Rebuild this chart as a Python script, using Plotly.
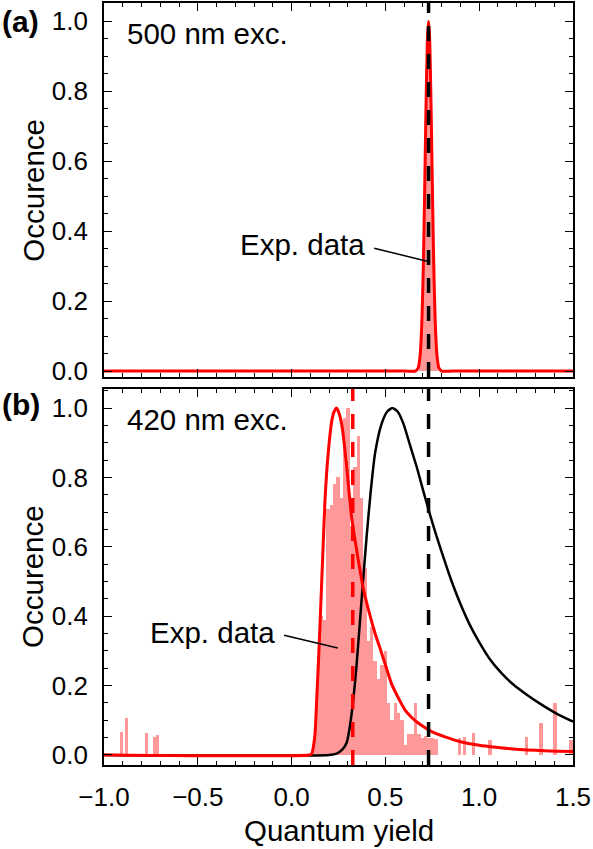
import plotly.graph_objects as go
from plotly.subplots import make_subplots

# ---- data ----

# panel (a): 500 nm excitation, narrow peak
a_fit_x = [-1.0, 0.60, 0.66, 0.675, 0.685, 0.69, 0.695, 0.70, 0.705, 0.71, 0.715, 0.72, 0.725,
           0.73, 0.735, 0.74, 0.745, 0.75, 0.755, 0.76, 0.765, 0.77, 0.775, 0.785, 0.80, 0.86, 1.5]
a_fit_y = [0.0, 0.0, 0.0, 0.009, 0.044, 0.085, 0.151, 0.249, 0.381, 0.54, 0.707, 0.857, 0.962,
           1.0, 0.962, 0.857, 0.707, 0.54, 0.381, 0.249, 0.151, 0.085, 0.044, 0.009, 0.0, 0.0, 0.0]
a_hist_x = [0.685, 0.695, 0.705, 0.715, 0.725, 0.735, 0.745, 0.755, 0.765, 0.775]
a_hist_y = [0.03, 0.14, 0.37, 0.68, 0.95, 0.93, 0.66, 0.36, 0.13, 0.03]

# panel (b): 420 nm excitation
b_hist_x = [-0.908, -0.879, -0.775, -0.730, -0.715,
            0.121, 0.139, 0.157, 0.175, 0.193, 0.211, 0.229, 0.247, 0.265, 0.283,
            0.301, 0.319, 0.337, 0.355, 0.373, 0.391, 0.409, 0.427, 0.445, 0.463,
            0.481, 0.499, 0.517, 0.535, 0.553, 0.571, 0.589, 0.607, 0.625, 0.643,
            0.661, 0.679, 0.697, 0.715, 0.733, 0.751, 0.769,
            0.896, 0.923, 0.968, 1.058, 1.253, 1.330, 1.404, 1.490]
b_hist_y = [0.067, 0.107, 0.064, 0.052, 0.058,
            0.05, 0.22, 0.40, 0.39, 0.71, 0.72, 0.78, 0.80, 0.74, 0.97,
            1.00, 0.66, 0.83, 0.92, 0.74, 0.54, 0.33, 0.37, 0.27, 0.22,
            0.26, 0.30, 0.15, 0.10, 0.15, 0.12, 0.10, 0.03, 0.06, 0.06,
            0.15, 0.06, 0.05, 0.055, 0.05, 0.05, 0.045,
            0.048, 0.053, 0.064, 0.043, 0.051, 0.091, 0.151, 0.043]

b_red_x = [-1.0, 0.095, 0.107, 0.115, 0.125, 0.133, 0.142, 0.151, 0.160, 0.169, 0.178, 0.187,
           0.196, 0.205, 0.214, 0.227, 0.240, 0.253, 0.267, 0.280, 0.294, 0.307, 0.320, 0.338,
           0.356, 0.382, 0.409, 0.445, 0.47, 0.50, 0.533, 0.578, 0.604, 0.64, 0.675, 0.71,
           0.747, 0.818, 0.90, 1.0, 1.09, 1.18, 1.35, 1.5]
b_red_y = [0.0, 0.0, 0.003, 0.02, 0.062, 0.15, 0.254, 0.37, 0.493, 0.615, 0.733, 0.815,
           0.876, 0.925, 0.963, 0.99, 1.0, 0.985, 0.953, 0.90, 0.828, 0.755, 0.685, 0.62,
           0.56, 0.48, 0.42, 0.35, 0.31, 0.26, 0.205, 0.155, 0.13, 0.108, 0.092, 0.079,
           0.067, 0.052, 0.038, 0.028, 0.022, 0.017, 0.012, 0.01]

b_black_x = [-1.0, 0.20, 0.24, 0.27, 0.294, 0.31, 0.329, 0.345, 0.365, 0.385, 0.40, 0.42,
             0.445, 0.48, 0.51, 0.537, 0.565, 0.596, 0.63, 0.667, 0.70, 0.731, 0.77, 0.809,
             0.85, 0.898, 0.95, 1.0, 1.058, 1.12, 1.182, 1.25, 1.324, 1.41, 1.5]
b_black_y = [0.0, 0.0, 0.004, 0.015, 0.036, 0.08, 0.16, 0.25, 0.39, 0.53, 0.63, 0.75,
             0.87, 0.955, 0.99, 1.0, 0.99, 0.955, 0.895, 0.83, 0.765, 0.705, 0.635, 0.57,
             0.505, 0.438, 0.375, 0.325, 0.275, 0.235, 0.203, 0.175, 0.148, 0.12, 0.096]

bin_width = 0.018
qy_ref = 0.73        # black dashed line
qy_mean_b = 0.326    # red dashed line in (b)

RED = "rgb(255,0,0)"
PINK = "rgba(255,0,0,0.4)"
FONT = "Liberation Sans"

fig = make_subplots(rows=2, cols=1, shared_xaxes=False, vertical_spacing=0.0)

# (a)
fig.add_trace(go.Bar(x=a_hist_x, y=a_hist_y, width=0.01,
                     marker=dict(color=PINK, line=dict(width=0)), showlegend=False),
              row=1, col=1)
fig.add_trace(go.Scatter(x=a_fit_x, y=a_fit_y, mode="lines",
                         line=dict(color=RED, width=3, shape="spline", smoothing=0.6),
                         showlegend=False), row=1, col=1)

# (b)
fig.add_trace(go.Scatter(x=b_black_x, y=b_black_y, mode="lines",
                         line=dict(color="black", width=2.5, shape="spline", smoothing=0.6),
                         showlegend=False), row=2, col=1)
fig.add_trace(go.Bar(x=b_hist_x, y=b_hist_y, width=bin_width,
                     marker=dict(color=PINK, line=dict(width=0)),
                     showlegend=False), row=2, col=1)
fig.add_trace(go.Scatter(x=b_red_x, y=b_red_y, mode="lines",
                         line=dict(color=RED, width=3, shape="spline", smoothing=0.6),
                         showlegend=False), row=2, col=1)

# dashed guide lines
fig.add_vline(x=qy_ref, line=dict(color="black", width=3.5, dash="15px,13px"), row=1, col=1)
fig.add_vline(x=qy_ref, line=dict(color="black", width=3.5, dash="15px,13px"), row=2, col=1)
fig.add_vline(x=qy_mean_b, line=dict(color=RED, width=3.5, dash="15px,13px"), row=2, col=1)

# axes
xcommon = dict(range=[-1.0, 1.5], dtick=0.5, tick0=0, ticks="inside", ticklen=8, tickwidth=1.3,
               tickcolor="black", mirror="allticks", showline=True, linecolor="black",
               linewidth=1.6, showgrid=False, zeroline=False, tickformat=".1f",
               tickfont=dict(family=FONT, size=26, color="black"), ticklabelstandoff=8,
               minor=dict(dtick=0.1, ticks="inside", ticklen=4.5, tickwidth=1, tickcolor="black"))
ycommon = dict(dtick=0.2, tick0=0, ticks="inside", ticklen=8, tickwidth=1.3,
               tickcolor="black", mirror="allticks", showline=True, linecolor="black",
               linewidth=1.6, showgrid=False, zeroline=False, tickformat=".1f",
               tickfont=dict(family=FONT, size=26, color="black"), ticklabelstandoff=9,
               minor=dict(dtick=0.05, ticks="inside", ticklen=4.5, tickwidth=1, tickcolor="black"))

fig.update_xaxes(**xcommon, showticklabels=False, row=1, col=1)
fig.update_xaxes(**xcommon, showticklabels=True, row=2, col=1)
fig.update_yaxes(**ycommon, range=[-0.017, 1.052], domain=[0.5092, 1.0], row=1, col=1)
fig.update_yaxes(**ycommon, range=[-0.029, 1.055], domain=[0.0, 0.4935], row=2, col=1)

# leader lines of the "Exp. data" labels
fig.add_shape(type="line", x0=0.44, y0=0.351, x1=0.722, y1=0.314,
              line=dict(color="black", width=1.5), xref="x", yref="y")
fig.add_shape(type="line", x0=-0.04, y0=0.345, x1=0.246, y1=0.308,
              line=dict(color="black", width=1.5), xref="x2", yref="y2")

txt = dict(family=FONT, size=29.5, color="black")
annots = [
    dict(text="Exp. data", x=0.40, y=0.362, xref="x", yref="y", xanchor="right", yanchor="middle"),
    dict(text="Exp. data", x=-0.078, y=0.353, xref="x2", yref="y2", xanchor="right", yanchor="middle"),
    dict(text="500 nm exc.", x=-0.89, y=0.964, xref="x", yref="y", xanchor="left", yanchor="middle"),
    dict(text="420 nm exc.", x=-0.89, y=0.968, xref="x2", yref="y2", xanchor="left", yanchor="middle"),
    dict(text="Occurence", x=-0.151, y=0.754, xref="paper", yref="paper", textangle=-90,
         xanchor="center", yanchor="middle"),
    dict(text="Occurence", x=-0.151, y=0.247, xref="paper", yref="paper", textangle=-90,
         xanchor="center", yanchor="middle"),
    dict(text="Quantum yield", x=0.5, y=-0.0864, xref="paper", yref="paper",
         xanchor="center", yanchor="middle"),
]
for a in annots:
    fig.add_annotation(**a, showarrow=False, font=txt)

lab = dict(family=FONT, size=30, color="black")
fig.add_annotation(text="<b>(a)</b>", x=-0.222, y=0.976, xref="paper", yref="paper",
                   xanchor="left", yanchor="middle", showarrow=False, font=lab)
fig.add_annotation(text="<b>(b)</b>", x=-0.222, y=0.4725, xref="paper", yref="paper",
                   xanchor="left", yanchor="middle", showarrow=False, font=lab)

fig.update_layout(width=593, height=849, margin=dict(l=104, r=20, t=1, b=84),
                  plot_bgcolor="white", paper_bgcolor="white", barmode="overlay",
                  bargap=0, font=dict(family=FONT, color="black"))

fig.write_html("out.html", config={"displayModeBar": False},
               post_script="document.body.style.margin='0';document.body.style.overflow='hidden';")
